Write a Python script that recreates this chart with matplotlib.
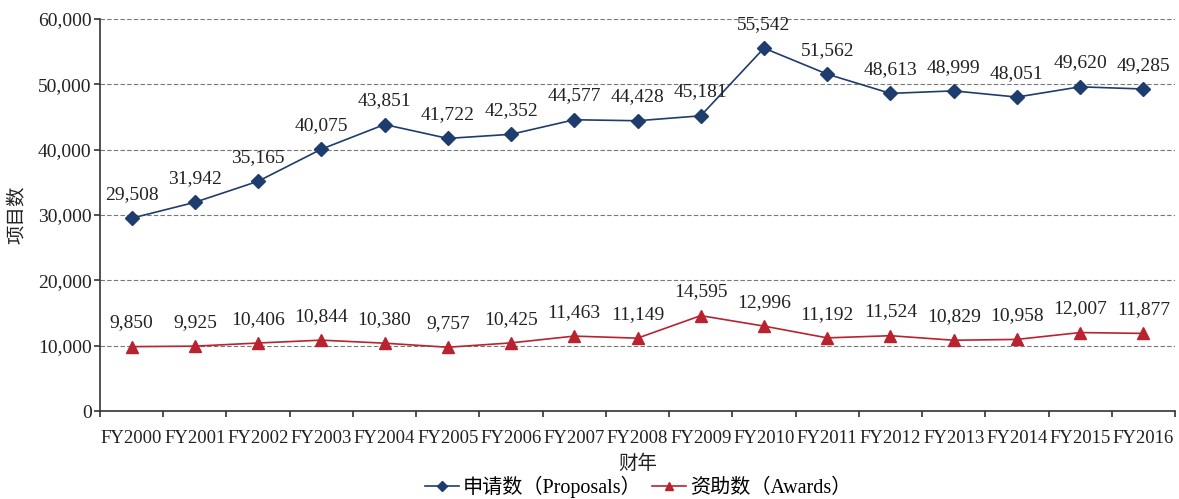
import matplotlib
matplotlib.use("Agg")
import matplotlib.pyplot as plt
from matplotlib.ticker import FuncFormatter, FixedLocator

plt.rcParams['font.family'] = ['Liberation Serif', 'Noto Sans CJK SC']

years = ["FY2000", "FY2001", "FY2002", "FY2003", "FY2004", "FY2005", "FY2006", "FY2007", "FY2008",
         "FY2009", "FY2010", "FY2011", "FY2012", "FY2013", "FY2014", "FY2015", "FY2016"]
proposals = [29508, 31942, 35165, 40075, 43851, 41722, 42352, 44577, 44428, 45181, 55542,
             51562, 48613, 48999, 48051, 49620, 49285]
awards = [9850, 9925, 10406, 10844, 10380, 9757, 10425, 11463, 11149, 14595, 12996,
          11192, 11524, 10829, 10958, 12007, 11877]

blue = "#1F3C6E"
red = "#B8232F"

fig = plt.figure(figsize=(11.79, 4.99), dpi=100)
ax = fig.add_axes([100/1179, 1-411/499, 1075/1179, 392/499])

x = list(range(len(years)))
ax.plot(x, proposals, color=blue, lw=1.2, marker="D", ms=7, label="申请数（Proposals）", zorder=3)
ax.plot(x, awards, color=red, lw=1.2, marker="^", ms=8, label="资助数（Awards）", zorder=3)

for xi, v in zip(x, proposals):
    ax.annotate(f"{v:,}", (xi, v), xytext=(0, 11), textcoords="offset points",
                ha="center", va="bottom", fontsize=14, color="#222222")
for xi, v in zip(x, awards):
    ax.annotate(f"{v:,}", (xi, v), xytext=(0, 11), textcoords="offset points",
                ha="center", va="bottom", fontsize=14, color="#222222")

ax.set_xlim(-0.5, len(years) - 0.5)
ax.set_ylim(0, 60000)
ax.set_yticks(range(0, 60001, 10000))
ax.yaxis.set_major_formatter(FuncFormatter(lambda v, p: f"{int(v):,}"))
ax.set_xticks(x)
ax.set_xticklabels(years)
ax.tick_params(axis="x", length=0, labelsize=13.5, pad=14, labelcolor="#222222")
ax.xaxis.set_minor_locator(FixedLocator([i - 0.5 for i in range(len(years) + 1)]))
ax.tick_params(axis="x", which="minor", length=4, direction="out", width=1.2, color="#333333")
ax.tick_params(axis="y", length=4, direction="out", width=1.2, color="#333333",
               labelsize=14, pad=2, labelcolor="#222222")
ax.grid(axis="y", ls="--", color="#777777", lw=0.8, dashes=(4, 2))
ax.set_axisbelow(True)

for s in ["top", "right"]:
    ax.spines[s].set_visible(False)
for s in ["left", "bottom"]:
    ax.spines[s].set_color("#333333")
    ax.spines[s].set_linewidth(1.2)

ax.set_ylabel("项目数", fontsize=14, labelpad=8, color="#222222")
ax.set_xlabel("财年", fontsize=14, labelpad=5, color="#222222")

leg = fig.legend(loc="center", bbox_to_anchor=(638/1179, 1 - 487/499), ncol=2, frameon=False,
                 fontsize=14.5, handlelength=1.7, columnspacing=0.5, handletextpad=0.2,
                 markerscale=0.8, borderpad=0)

fig.savefig("out.png", dpi=100)
